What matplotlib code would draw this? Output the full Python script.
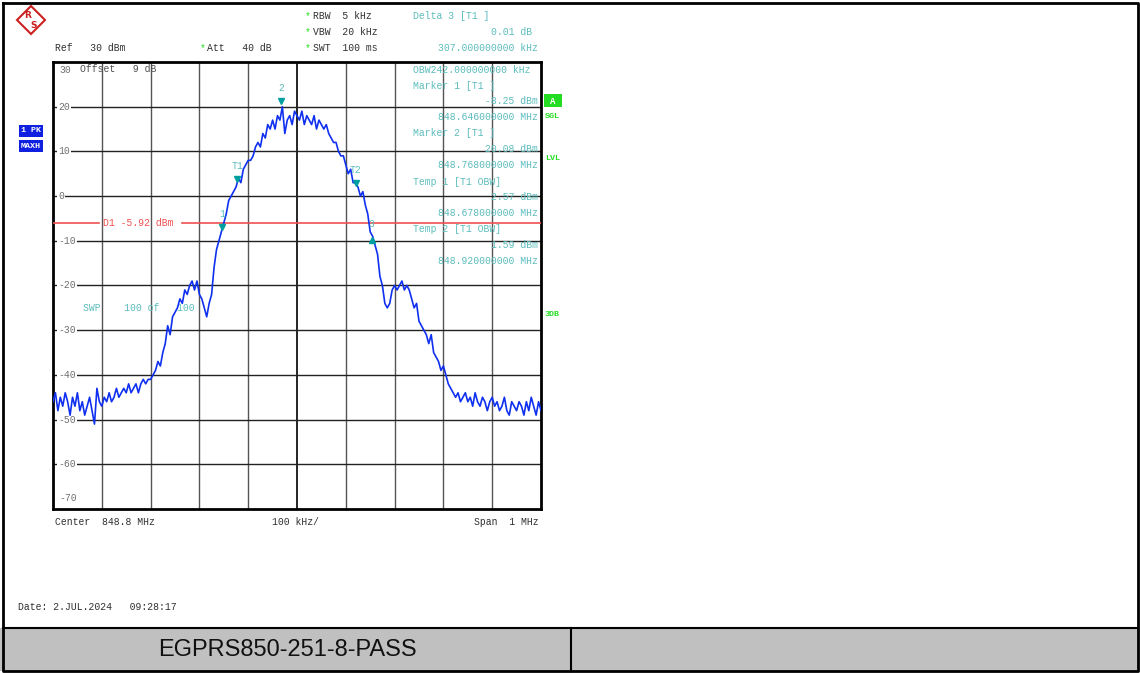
import numpy as np
import matplotlib
matplotlib.use('Agg')
from matplotlib import pyplot as plt
from matplotlib.lines import Line2D
from matplotlib.patches import Rectangle, Polygon

W, H = 1140, 673

# trace, 5 kHz per point from 848.300 MHz
freq_start = 848.3
freq_step = 0.005
trace_dbm = [
    -46, -44, -48, -45, -47, -44, -46, -49, -45, -47,
    -44, -48, -46, -49, -47, -45, -48, -51, -43, -46,
    -47, -45, -46, -44, -46, -45, -43, -45, -44, -43,
    -44, -42, -44, -43, -42, -44, -42, -41, -42, -41,
    -41, -40, -39, -37, -38, -35, -33, -29, -31, -27,
    -26, -25, -23, -24, -21, -22, -20, -19, -21, -19,
    -22, -23, -25, -27, -24, -22, -16, -12, -10, -8,
    -6, -4, -1, 0, 1, 2, 4, 3, 6, 7,
    8, 8, 9, 11, 12, 11, 14, 13, 16, 15,
    17, 15, 18, 17, 20, 14, 17, 18, 16, 19,
    18, 17, 19, 16, 18, 17, 16, 18, 15, 17,
    16, 15, 16, 14, 13, 12, 12, 10, 9, 9,
    7, 5, 6, 3, 3, 2, 0, 1, -2, -4,
    -8, -9, -11, -13, -18, -20, -24, -25, -24, -21,
    -20, -21, -20, -19, -21, -20, -21, -23, -25, -24,
    -28, -29, -30, -31, -33, -31, -35, -36, -37, -39,
    -38, -40, -42, -43, -44, -45, -44, -46, -45, -44,
    -46, -45, -47, -44, -46, -47, -45, -46, -48, -46,
    -45, -47, -46, -48, -47, -45, -48, -49, -46, -47,
    -48, -46, -47, -49, -46, -48, -45, -47, -49, -46, -48,
]
ref_level = 30
bottom_level = -70
grid_levels = [20, 10, 0, -10, -20, -30, -40, -50, -60]
tick_labels = ['20', '10', '0', '-10', '-20', '-30', '-40', '-50', '-60']

marker_names = ['1', '2', 'T1', 'T2', '3']
marker_freq = [848.646, 848.768, 848.678, 848.920, 848.953]
marker_level = [-8.25, 20.08, 2.57, 1.59, -8.24]
display_line = -5.92

header_left = ['Ref   30 dBm']
header_settings = ['RBW  5 kHz', 'VBW  20 kHz', 'SWT  100 ms']
info_left = ['Delta 3 [T1 ]', 'OBW242.000000000 kHz', 'Marker 1 [T1 ]', 'Marker 2 [T1 ]',
             'Temp 1 [T1 OBW]', 'Temp 2 [T1 OBW]']
info_right = ['0.01 dB', '307.000000000 kHz', '-8.25 dBm', '848.646000000 MHz',
              '20.08 dBm', '848.768000000 MHz', '2.57 dBm', '848.678000000 MHz',
              '1.59 dBm', '848.920000000 MHz']
title_text = 'EGPRS850-251-8-PASS'

freqs = freq_start + freq_step * np.arange(len(trace_dbm))

MONO = 'Liberation Mono'
TEAL = '#00a0a0'
INFO = '#5cbcbc'
GREEN = '#22dd22'

fig = plt.figure(figsize=(W / 100, H / 100), dpi=100)


def ftxt(x, y, s, **kw):
    kw.setdefault('family', MONO)
    kw.setdefault('fontsize', 7)
    kw.setdefault('va', 'center')
    return fig.text(x / W, 1 - y / H, s, **kw)


def fline(xs, ys, **kw):
    fig.add_artist(Line2D([x / W for x in xs], [1 - y / H for y in ys],
                          transform=fig.transFigure, **kw))


# outer frame and bottom bar
fig.add_artist(Rectangle((0 / W, 1 - 671 / H), 1138 / W, 43 / H, transform=fig.transFigure,
                         facecolor='#c0c0c0', edgecolor='none'))
fline([3, 1138, 1138, 3, 3], [3, 3, 671, 671, 3], color='black', lw=2)
fline([3, 1138], [628, 628], color='black', lw=1.5)
fline([571, 571], [628, 671], color='black', lw=1.5)
ftxt(287, 650, title_text, family='Liberation Sans', fontsize=17, ha='center', color='#111111')

# spectrum axes
ax = fig.add_axes([53 / W, 1 - 509 / H, 488 / W, 447 / H])
ax.set_xlim(848.3, 849.3)
ax.set_ylim(bottom_level, ref_level)
ax.set_xticks([])
ax.set_yticks([])
for s in ax.spines.values():
    s.set_linewidth(2)
    s.set_color('black')

for i in range(1, 10):
    f = 848.3 + 0.1 * i
    ax.axvline(f, color='black' if i == 5 else '#555555', lw=1.2 if i == 5 else 1.0, zorder=1)
for lvl, lab in zip(grid_levels, tick_labels):
    ax.axhline(lvl, color='#222222', lw=1.0, zorder=1)
    ax.text(848.3 + 0.011, lvl, lab, family=MONO, fontsize=7, color='#707070', va='center',
            bbox=dict(facecolor='white', edgecolor='none', pad=0.6), zorder=2)
ax.text(848.3 + 0.014, 28.3, '30', family=MONO, fontsize=7, color='#707070', va='center')
ax.text(848.3 + 0.055, 28.5, 'Offset   9 dB', family=MONO, fontsize=7, color='#505050',
        va='center', zorder=4)
ax.text(848.3 + 0.014, -67.6, '-70', family=MONO, fontsize=7, color='#707070', va='center')

# display line D1
ax.plot([848.3, 848.395], [display_line] * 2, color='#f05050', lw=1.2, zorder=3)
ax.plot([848.565, 849.3], [display_line] * 2, color='#f05050', lw=1.2, zorder=3)
ax.text(848.402, display_line, 'D1 -5.92 dBm', family=MONO, fontsize=7, color='#f05050',
        va='center', zorder=3)

ax.text(848.362, -25.0, 'SWP    100 of   100', family=MONO, fontsize=7, color=INFO,
        va='center', zorder=2)

ax.plot(freqs, trace_dbm, color='#1030f0', lw=1.2, zorder=5)

for name, f, lvl in zip(marker_names, marker_freq, marker_level):
    if name == '3':
        ax.plot(f, lvl - 1.6, marker='^', color=TEAL, ms=5, zorder=6)
        ax.text(f, lvl + 2.0, name, family=MONO, fontsize=7, color=INFO, ha='center',
                va='center', zorder=6)
    else:
        ax.plot(f, lvl + 1.3, marker='v', color=TEAL, ms=5, zorder=6)
        ax.text(f, lvl + 4.2, name, family=MONO, fontsize=7, color=INFO, ha='center',
                va='center', zorder=6)

# info overlay on top of the grid
ftxt(413, 16, info_left[0], color=INFO)
ftxt(532, 32, info_right[0], color=INFO, ha='right')
ftxt(538, 48, info_right[1], color=INFO, ha='right')
left_y = [70, 86, 133, 182, 229]
for y, s in zip(left_y, info_left[1:]):
    ftxt(413, y, s, color=INFO)
right_y = [101, 117, 149, 165, 197, 213, 245, 261]
for y, s in zip(right_y, info_right[2:]):
    ftxt(538, y, s, color=INFO, ha='right')

# header
ftxt(55, 48, header_left[0], color='#303030')
ftxt(200, 48, '*', color=GREEN)
ftxt(207, 48, 'Att   40 dB', color='#303030')
for k, s in enumerate(header_settings):
    ftxt(305, 16 + 16 * k, '*', color=GREEN)
    ftxt(313, 16 + 16 * k, s, color='#303030')

# bottom axis text
ftxt(55, 522, 'Center  848.8 MHz', color='#303030')
ftxt(296, 522, '100 kHz/', color='#303030', ha='center')
ftxt(539, 522, 'Span  1 MHz', color='#303030', ha='right')
ftxt(18, 607, 'Date: 2.JUL.2024   09:28:17', color='#303030', fontsize=7)

# side boxes
fig.add_artist(Rectangle((19 / W, 1 - 137 / H), 24 / W, 12 / H, transform=fig.transFigure,
                         facecolor='#1020e0', edgecolor='none'))
fig.add_artist(Rectangle((19 / W, 1 - 152 / H), 24 / W, 12 / H, transform=fig.transFigure,
                         facecolor='#1020e0', edgecolor='none'))
ftxt(31, 131, '1 PK', color='white', ha='center', fontsize=6, weight='bold')
ftxt(31, 146, 'MAXH', color='white', ha='center', fontsize=6, weight='bold')
fig.add_artist(Rectangle((544 / W, 1 - 107 / H), 18 / W, 13 / H, transform=fig.transFigure,
                         facecolor=GREEN, edgecolor='none'))
ftxt(553, 101, 'A', color='white', ha='center', fontsize=6.5, weight='bold')
ftxt(545, 117, 'SGL', color=GREEN, fontsize=6, weight='bold')
ftxt(545, 159, 'LVL', color=GREEN, fontsize=6, weight='bold')
ftxt(545, 315, '3DB', color=GREEN, fontsize=6, weight='bold')

# R&S logo
cx, cy, r = 31, 20, 14
fig.add_artist(Polygon([((cx - r) / W, 1 - cy / H), (cx / W, 1 - (cy - r) / H),
                        ((cx + r) / W, 1 - cy / H), (cx / W, 1 - (cy + r) / H)],
                       closed=True, transform=fig.transFigure, facecolor='white',
                       edgecolor='#cc2020', lw=1.5))
ftxt(28, 15, 'R', color='#cc2020', fontsize=6.5, family='DejaVu Sans', weight='bold', ha='center')
ftxt(34, 25, 'S', color='#cc2020', fontsize=6.5, family='DejaVu Sans', weight='bold', ha='center')

fig.savefig('out.png', dpi=100)
